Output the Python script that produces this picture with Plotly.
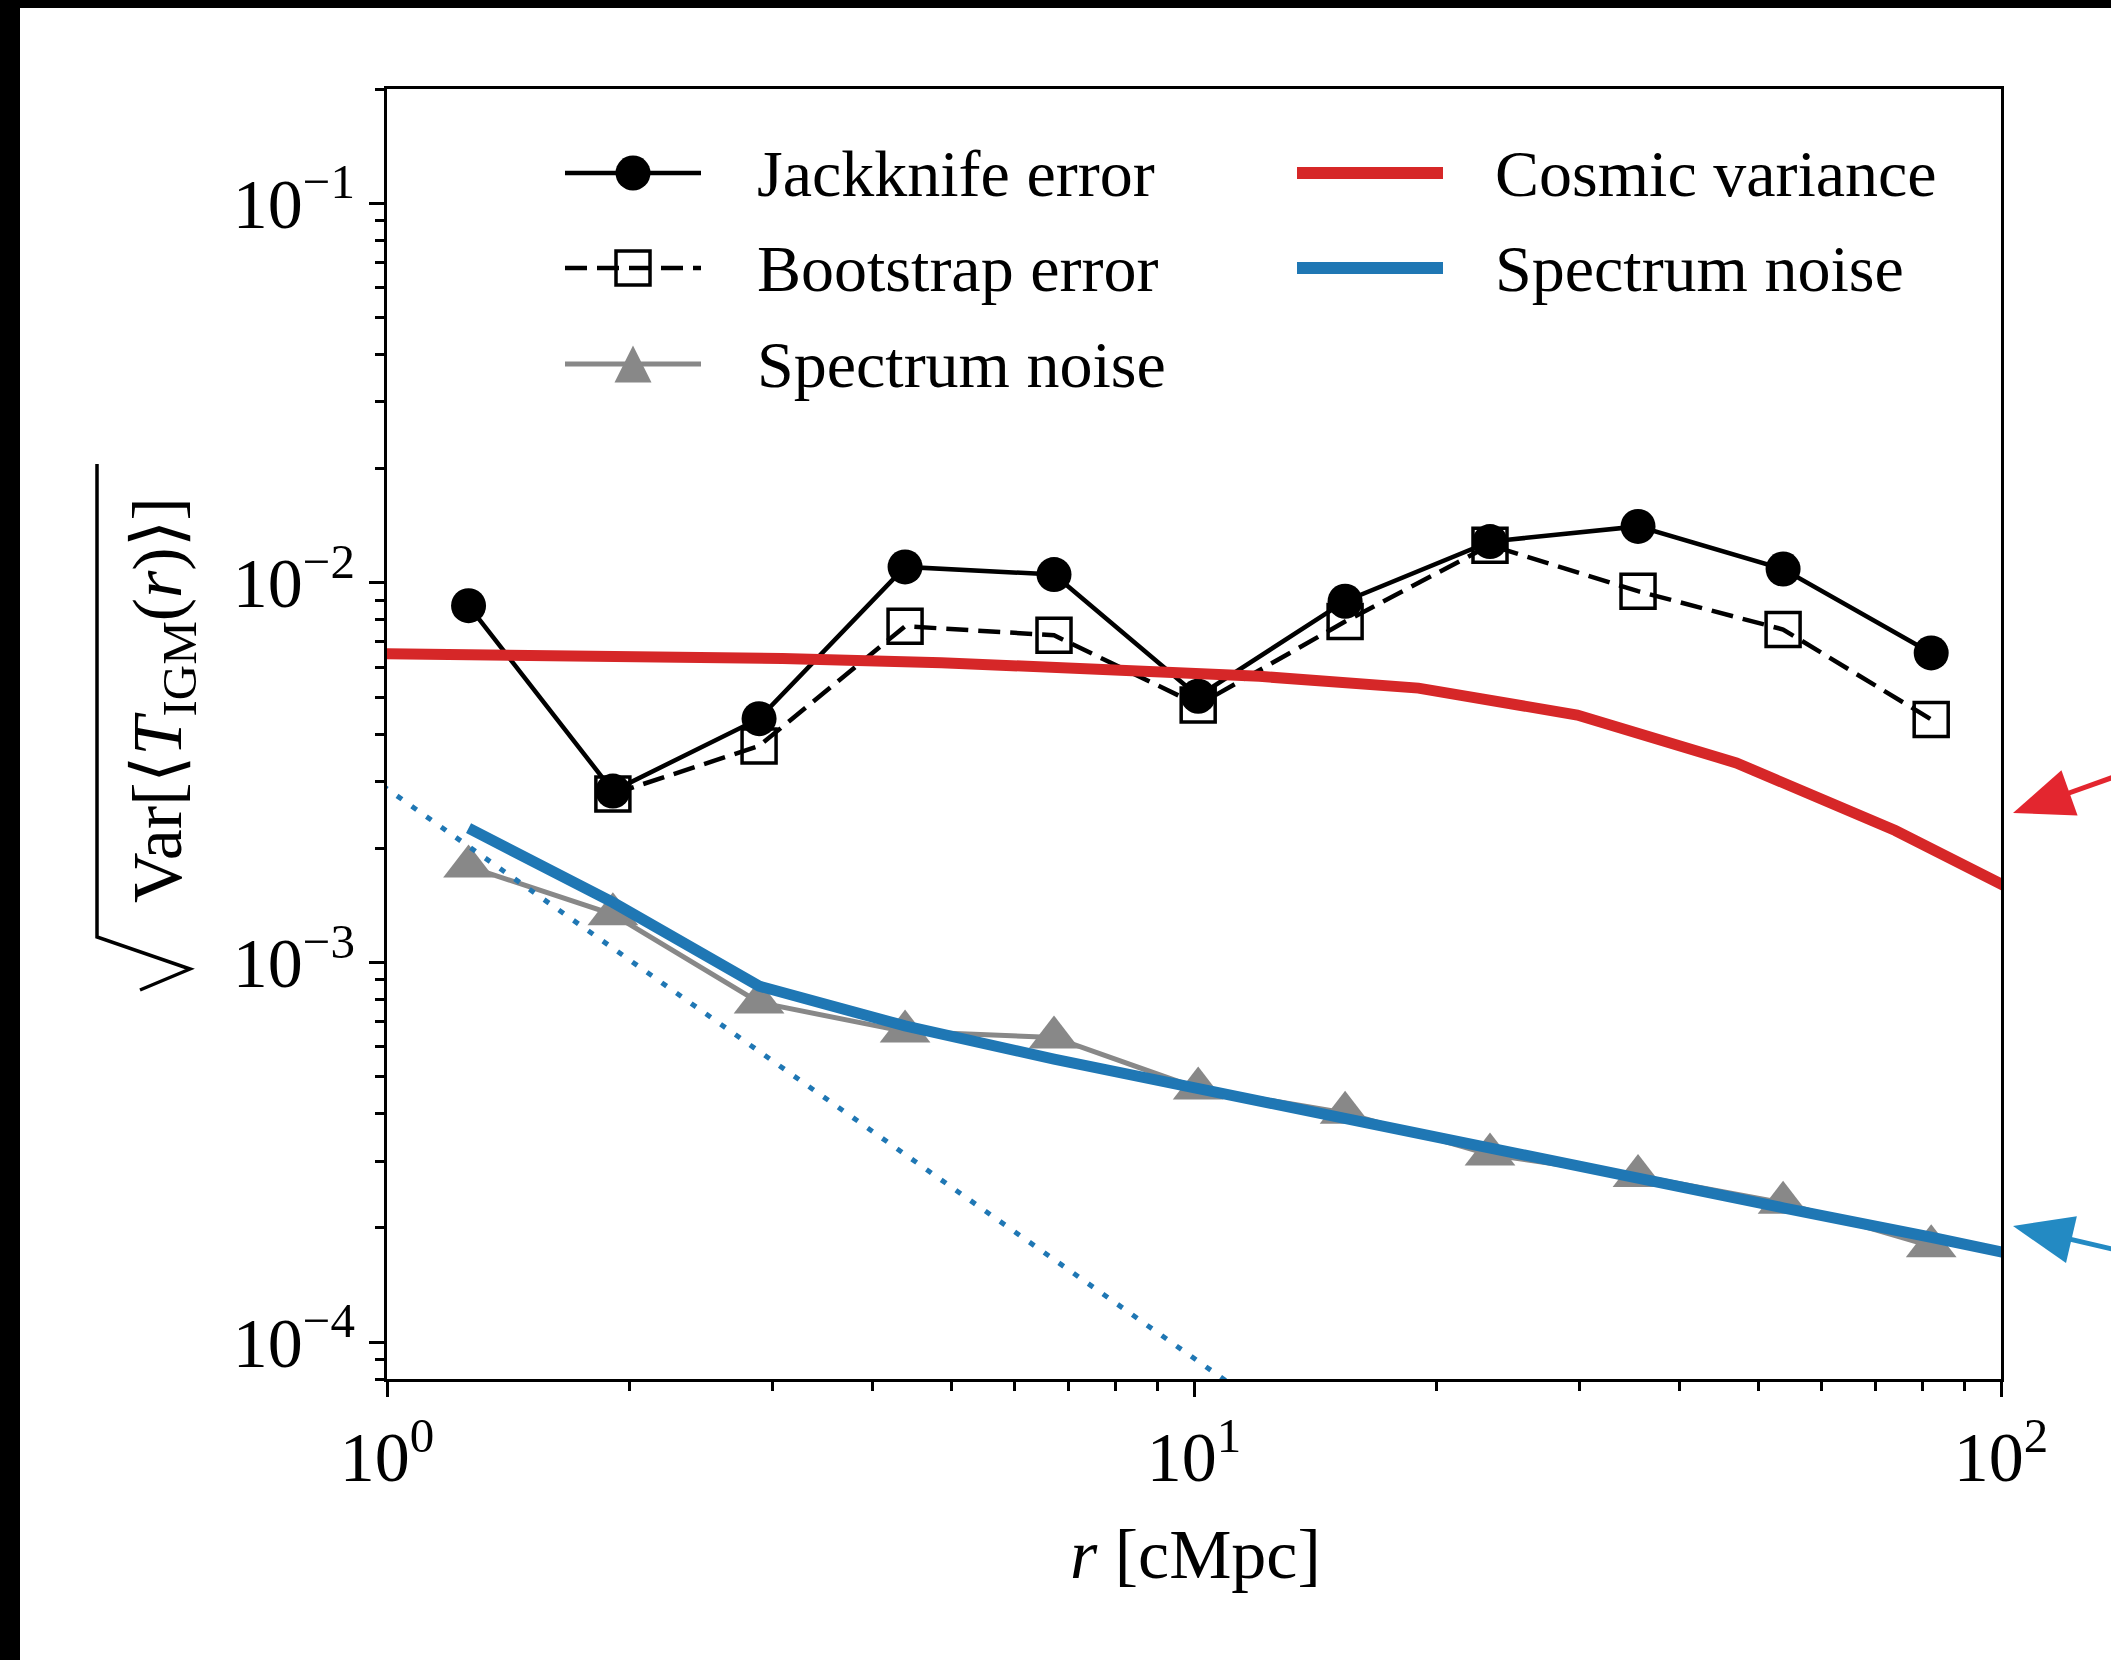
import plotly.graph_objects as go
import math

# ---------------- data ----------------
r_bins = [1.262, 1.905, 2.891, 4.385, 6.707, 10.12, 15.39, 23.27, 35.50, 53.70, 81.94]
jackknife_err = [0.00871, 0.00283, 0.00439, 0.01102, 0.01052, 0.00503, 0.00895, 0.01285, 0.01409, 0.01088, 0.00654]
bootstrap_err = [None, 0.00278, 0.00372, 0.00769, 0.00728, 0.00477, 0.00791, 0.01257, 0.00951, 0.00754, 0.00437]
noise_points = [0.00179, 0.00134, 0.000785, 0.000658, 0.000635, 0.000466, 0.000402, 0.000312, 0.000274, 0.000233, 0.000179]

r_model = [1.262, 1.905, 2.891, 4.385, 6.707, 10.12, 15.39, 23.27, 35.50, 53.70, 81.94, 124.0]
noise_model = [0.00226, 0.00144, 0.000867, 0.000681, 0.000557, 0.000465, 0.000387, 0.000322, 0.000272, 0.000226, 0.000189, 0.000157]

r_cv = [0.792, 1.247, 1.963, 3.090, 4.864, 7.656, 12.05, 18.97, 29.85, 46.99, 73.96, 116.4]
cosmic_var = [0.006546, 0.006501, 0.006427, 0.006324, 0.006166, 0.005957, 0.005675, 0.005284, 0.004487, 0.003357, 0.002228, 0.001368]

r_fit = [0.8, 12.0]
fit_line = [0.00401, 0.0000690]

x_tickvals = [1, 10, 100]
x_ticktext = ["10<sup>0</sup>", "10<sup>1</sup>", "10<sup>2</sup>"]
y_tickvals = [1e-4, 1e-3, 1e-2, 1e-1]
y_ticktext = ["10<sup>\u22124</sup>", "10<sup>\u22123</sup>", "10<sup>\u22122</sup>", "10<sup>\u22121</sup>"]

legend_left = ["Jackknife error", "Bootstrap error", "Spectrum noise"]
legend_right = ["Cosmic variance", "Spectrum noise"]

# ---------------- styling ----------------
W, H = 2111, 1660
L, R, T, B = 387, 2001, 89, 1379
FONT = "Liberation Serif"
RED = "#d62728"
BLUE = "#1f77b4"
GRAY = "#888888"

def px(x):
    return (x - L) / (R - L)

def py(y):
    return (B - y) / (B - T)

fig = go.Figure()

fig.add_trace(go.Scatter(x=r_bins, y=jackknife_err, mode="lines+markers",
                         line=dict(color="black", width=4.5),
                         marker=dict(symbol="circle", size=35, color="black"),
                         showlegend=False))
fig.add_trace(go.Scatter(x=r_bins, y=bootstrap_err, mode="lines+markers",
                         line=dict(color="black", width=4.5, dash="22px,10px"),
                         marker=dict(symbol="square-open", size=34, color="black", line=dict(width=3.5)),
                         showlegend=False))
fig.add_trace(go.Scatter(x=r_bins, y=noise_points, mode="lines+markers",
                         line=dict(color=GRAY, width=5),
                         marker=dict(symbol="triangle-up", size=44, color=GRAY),
                         showlegend=False))
fig.add_trace(go.Scatter(x=r_cv, y=cosmic_var, mode="lines",
                         line=dict(color=RED, width=11), showlegend=False))
fig.add_trace(go.Scatter(x=r_model, y=noise_model, mode="lines",
                         line=dict(color=BLUE, width=11), showlegend=False))
fig.add_trace(go.Scatter(x=r_fit, y=fit_line, mode="lines",
                         line=dict(color=BLUE, width=5, dash="6px,12px"), showlegend=False))

shapes = []
# black frame on the left and top edges of the picture
shapes.append(dict(type="rect", xref="paper", yref="paper", x0=px(-5), x1=px(20), y0=py(H + 5), y1=py(-5),
                   fillcolor="black", line=dict(width=0), layer="above"))
shapes.append(dict(type="rect", xref="paper", yref="paper", x0=px(-5), x1=px(W + 5), y0=py(8), y1=py(-5),
                   fillcolor="black", line=dict(width=0), layer="above"))

# ---------- custom legend ----------
rows = [173, 268, 364]
c1a, c1b, c1m = 565, 701, 633
c2a, c2b = 1297, 1443
# jackknife
shapes.append(dict(type="line", xref="paper", yref="paper", x0=px(c1a), x1=px(c1b), y0=py(rows[0]), y1=py(rows[0]),
                   line=dict(color="black", width=4.5), layer="above"))
rr = 17.5
shapes.append(dict(type="circle", xref="paper", yref="paper", x0=px(c1m - rr), x1=px(c1m + rr),
                   y0=py(rows[0] + rr), y1=py(rows[0] - rr), fillcolor="black", line=dict(color="black", width=0),
                   layer="above"))
# bootstrap
shapes.append(dict(type="line", xref="paper", yref="paper", x0=px(c1a), x1=px(c1b), y0=py(rows[1]), y1=py(rows[1]),
                   line=dict(color="black", width=4.5, dash="22px,10px"), layer="above"))
sq = 17
shapes.append(dict(type="rect", xref="paper", yref="paper", x0=px(c1m - sq), x1=px(c1m + sq),
                   y0=py(rows[1] + sq), y1=py(rows[1] - sq), fillcolor="rgba(0,0,0,0)",
                   line=dict(color="black", width=3.5), layer="above"))
# spectrum noise (grey)
shapes.append(dict(type="line", xref="paper", yref="paper", x0=px(c1a), x1=px(c1b), y0=py(rows[2]), y1=py(rows[2]),
                   line=dict(color=GRAY, width=5), layer="above"))
th = 18.5
tri = "M {} {} L {} {} L {} {} Z".format(px(c1m), py(rows[2] - th), px(c1m - th), py(rows[2] + th),
                                         px(c1m + th), py(rows[2] + th))
shapes.append(dict(type="path", xref="paper", yref="paper", path=tri, fillcolor=GRAY,
                   line=dict(color=GRAY, width=0), layer="above"))
# right column
shapes.append(dict(type="line", xref="paper", yref="paper", x0=px(c2a), x1=px(c2b), y0=py(rows[0]), y1=py(rows[0]),
                   line=dict(color=RED, width=12), layer="above"))
shapes.append(dict(type="line", xref="paper", yref="paper", x0=px(c2a), x1=px(c2b), y0=py(rows[1]), y1=py(rows[1]),
                   line=dict(color=BLUE, width=12), layer="above"))

# ---------- arrows on the right ----------
def arrow(tip, tail, color, head_len=60, half_w=24, width=5):
    dx, dy = tail[0] - tip[0], tail[1] - tip[1]
    d = math.hypot(dx, dy)
    ux, uy = dx / d, dy / d
    nx, ny = -uy, ux
    bx, by = tip[0] + head_len * ux, tip[1] + head_len * uy
    out = [dict(type="line", xref="paper", yref="paper", x0=px(bx - 5 * ux), y0=py(by - 5 * uy),
                x1=px(tail[0]), y1=py(tail[1]), line=dict(color=color, width=width), layer="above")]
    p = "M {} {} L {} {} L {} {} Z".format(px(tip[0]), py(tip[1]),
                                           px(bx + half_w * nx), py(by + half_w * ny),
                                           px(bx - half_w * nx), py(by - half_w * ny))
    out.append(dict(type="path", xref="paper", yref="paper", path=p, fillcolor=color,
                    line=dict(color=color, width=0), layer="above"))
    return out

shapes += arrow((2013, 813), (2125, 773), "#e3262f")
shapes += arrow((2013, 1226), (2125, 1252), "#238ac3")

# ---------- radical sign of the y label ----------
rad = "M {} {} L {} {} L {} {} L {} {}".format(px(140), py(990), px(190), py(969), px(97), py(937), px(97), py(464))
shapes.append(dict(type="path", xref="paper", yref="paper", path=rad, line=dict(color="black", width=3.5),
                   layer="above"))

annotations = []
for i, t in enumerate(legend_left):
    annotations.append(dict(text=t, xref="paper", yref="paper", x=px(755), y=py(rows[i]),
                            xanchor="left", yanchor="middle", showarrow=False,
                            font=dict(family=FONT, size=66, color="black")))
for i, t in enumerate(legend_right):
    annotations.append(dict(text=t, xref="paper", yref="paper", x=px(1493), y=py(rows[i]),
                            xanchor="left", yanchor="middle", showarrow=False,
                            font=dict(family=FONT, size=66, color="black")))
# axis titles
annotations.append(dict(text="<i>r</i> [cMpc]", xref="paper", yref="paper", x=px(1195), y=py(1555),
                        xanchor="center", yanchor="middle", showarrow=False,
                        font=dict(family=FONT, size=70, color="black")))
annotations.append(dict(text="Var[\u27e8<i>T</i><sub>IGM</sub>(<i>r</i>)\u27e9]", xref="paper", yref="paper",
                        x=px(163), y=py(700), xanchor="center", yanchor="middle", textangle=-90,
                        showarrow=False, font=dict(family=FONT, size=70, color="black")))

minor_x = [2, 3, 4, 5, 6, 7, 8, 9, 20, 30, 40, 50, 60, 70, 80, 90]
minor_y = []
for e in [-5, -4, -3, -2, -1]:
    for m in range(2, 10):
        minor_y.append(m * 10 ** e)

axis_common = dict(showline=True, linewidth=3, linecolor="black", mirror=True, ticks="outside",
                   ticklen=15, tickwidth=3, tickcolor="black", showgrid=False, zeroline=False,
                   tickfont=dict(family=FONT, size=70, color="black"))

fig.update_layout(
    width=W, height=H,
    margin=dict(l=L, r=W - R, t=T, b=H - B, pad=0),
    paper_bgcolor="white", plot_bgcolor="white",
    font=dict(family=FONT, color="black"),
    xaxis=dict(type="log", range=[0, 2], tickmode="array", tickvals=x_tickvals, ticktext=x_ticktext,
               minor=dict(tickmode="array", tickvals=minor_x, ticks="outside", ticklen=9, tickwidth=2.5,
                          tickcolor="black", showgrid=False),
               **axis_common),
    yaxis=dict(type="log", range=[math.log10(8e-5), math.log10(0.2)], tickmode="array",
               tickvals=y_tickvals, ticktext=y_ticktext,
               minor=dict(tickmode="array", tickvals=minor_y, ticks="outside", ticklen=9, tickwidth=2.5,
                          tickcolor="black", showgrid=False),
               **axis_common),
    shapes=shapes,
    annotations=annotations,
    showlegend=False,
)

fig.write_html("out.html")
